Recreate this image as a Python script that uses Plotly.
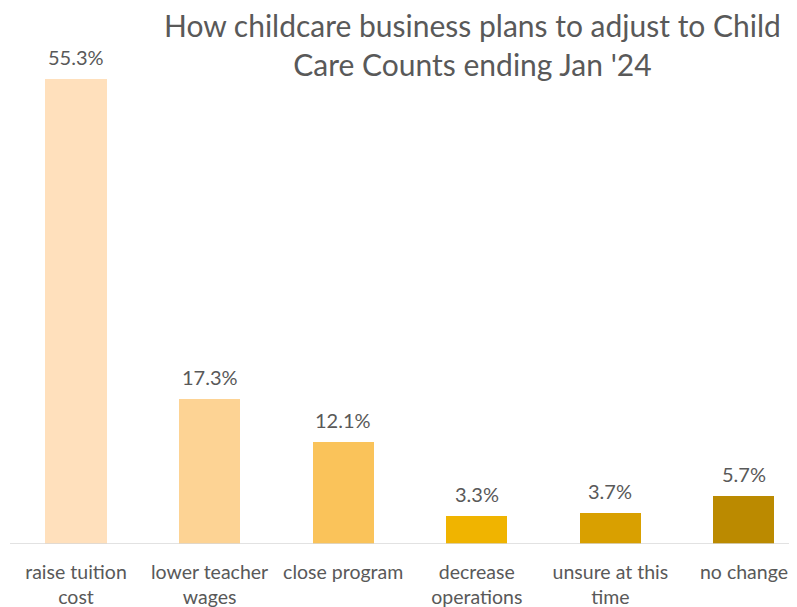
import plotly.graph_objects as go

categories = ["raise tuition<br>cost", "lower teacher<br>wages", "close program",
              "decrease<br>operations", "unsure at this<br>time", "no change"]
values = [55.3, 17.3, 12.1, 3.3, 3.7, 5.7]
colors = ["#FFE0BC", "#FDD394", "#FAC35A", "#F0B400", "#D9A000", "#BB8A00"]

x = list(range(len(categories)))
FONT = "Lato, Open Sans, sans-serif"

fig = go.Figure()
fig.add_trace(go.Bar(
    x=x, y=values, width=0.457,
    marker=dict(color=colors, line=dict(width=0)),
    hoverinfo="skip",
))

for xi, v in zip(x, values):
    fig.add_annotation(
        x=xi, y=v, xref="x", yref="y", text=f"{v:.1f}%",
        showarrow=False, yanchor="middle", yshift=22,
        font=dict(family=FONT, size=20, color="#595959"),
    )

fig.add_annotation(
    x=0.589, y=1.053, xref="paper", yref="paper",
    text="How childcare business plans to adjust to Child<br>Care Counts ending Jan '24",
    showarrow=False, xanchor="center", yanchor="middle", borderpad=0,
    font=dict(family=FONT, size=30, color="#595959"),
)

fig.update_layout(
    width=789, height=599,
    margin=dict(l=0, r=0, t=62, b=63),
    plot_bgcolor="white", paper_bgcolor="white",
    showlegend=False,
    xaxis=dict(
        tickmode="array", tickvals=x, ticktext=categories,
        range=[-0.509, 5.397],
        showgrid=False, zeroline=False, showline=False, ticks="",
        tickfont=dict(family=FONT, size=19.5, color="#595959"),
        ticklabelstandoff=14,
    ),
    yaxis=dict(range=[0, 56.36], visible=False),
    bargap=0,
)
fig.add_shape(type="line", xref="x", yref="y", x0=-0.494, x1=5.397, y0=0, y1=0,
              line=dict(color="#D9D9D9", width=1.5))

fig.write_html("out.html")
